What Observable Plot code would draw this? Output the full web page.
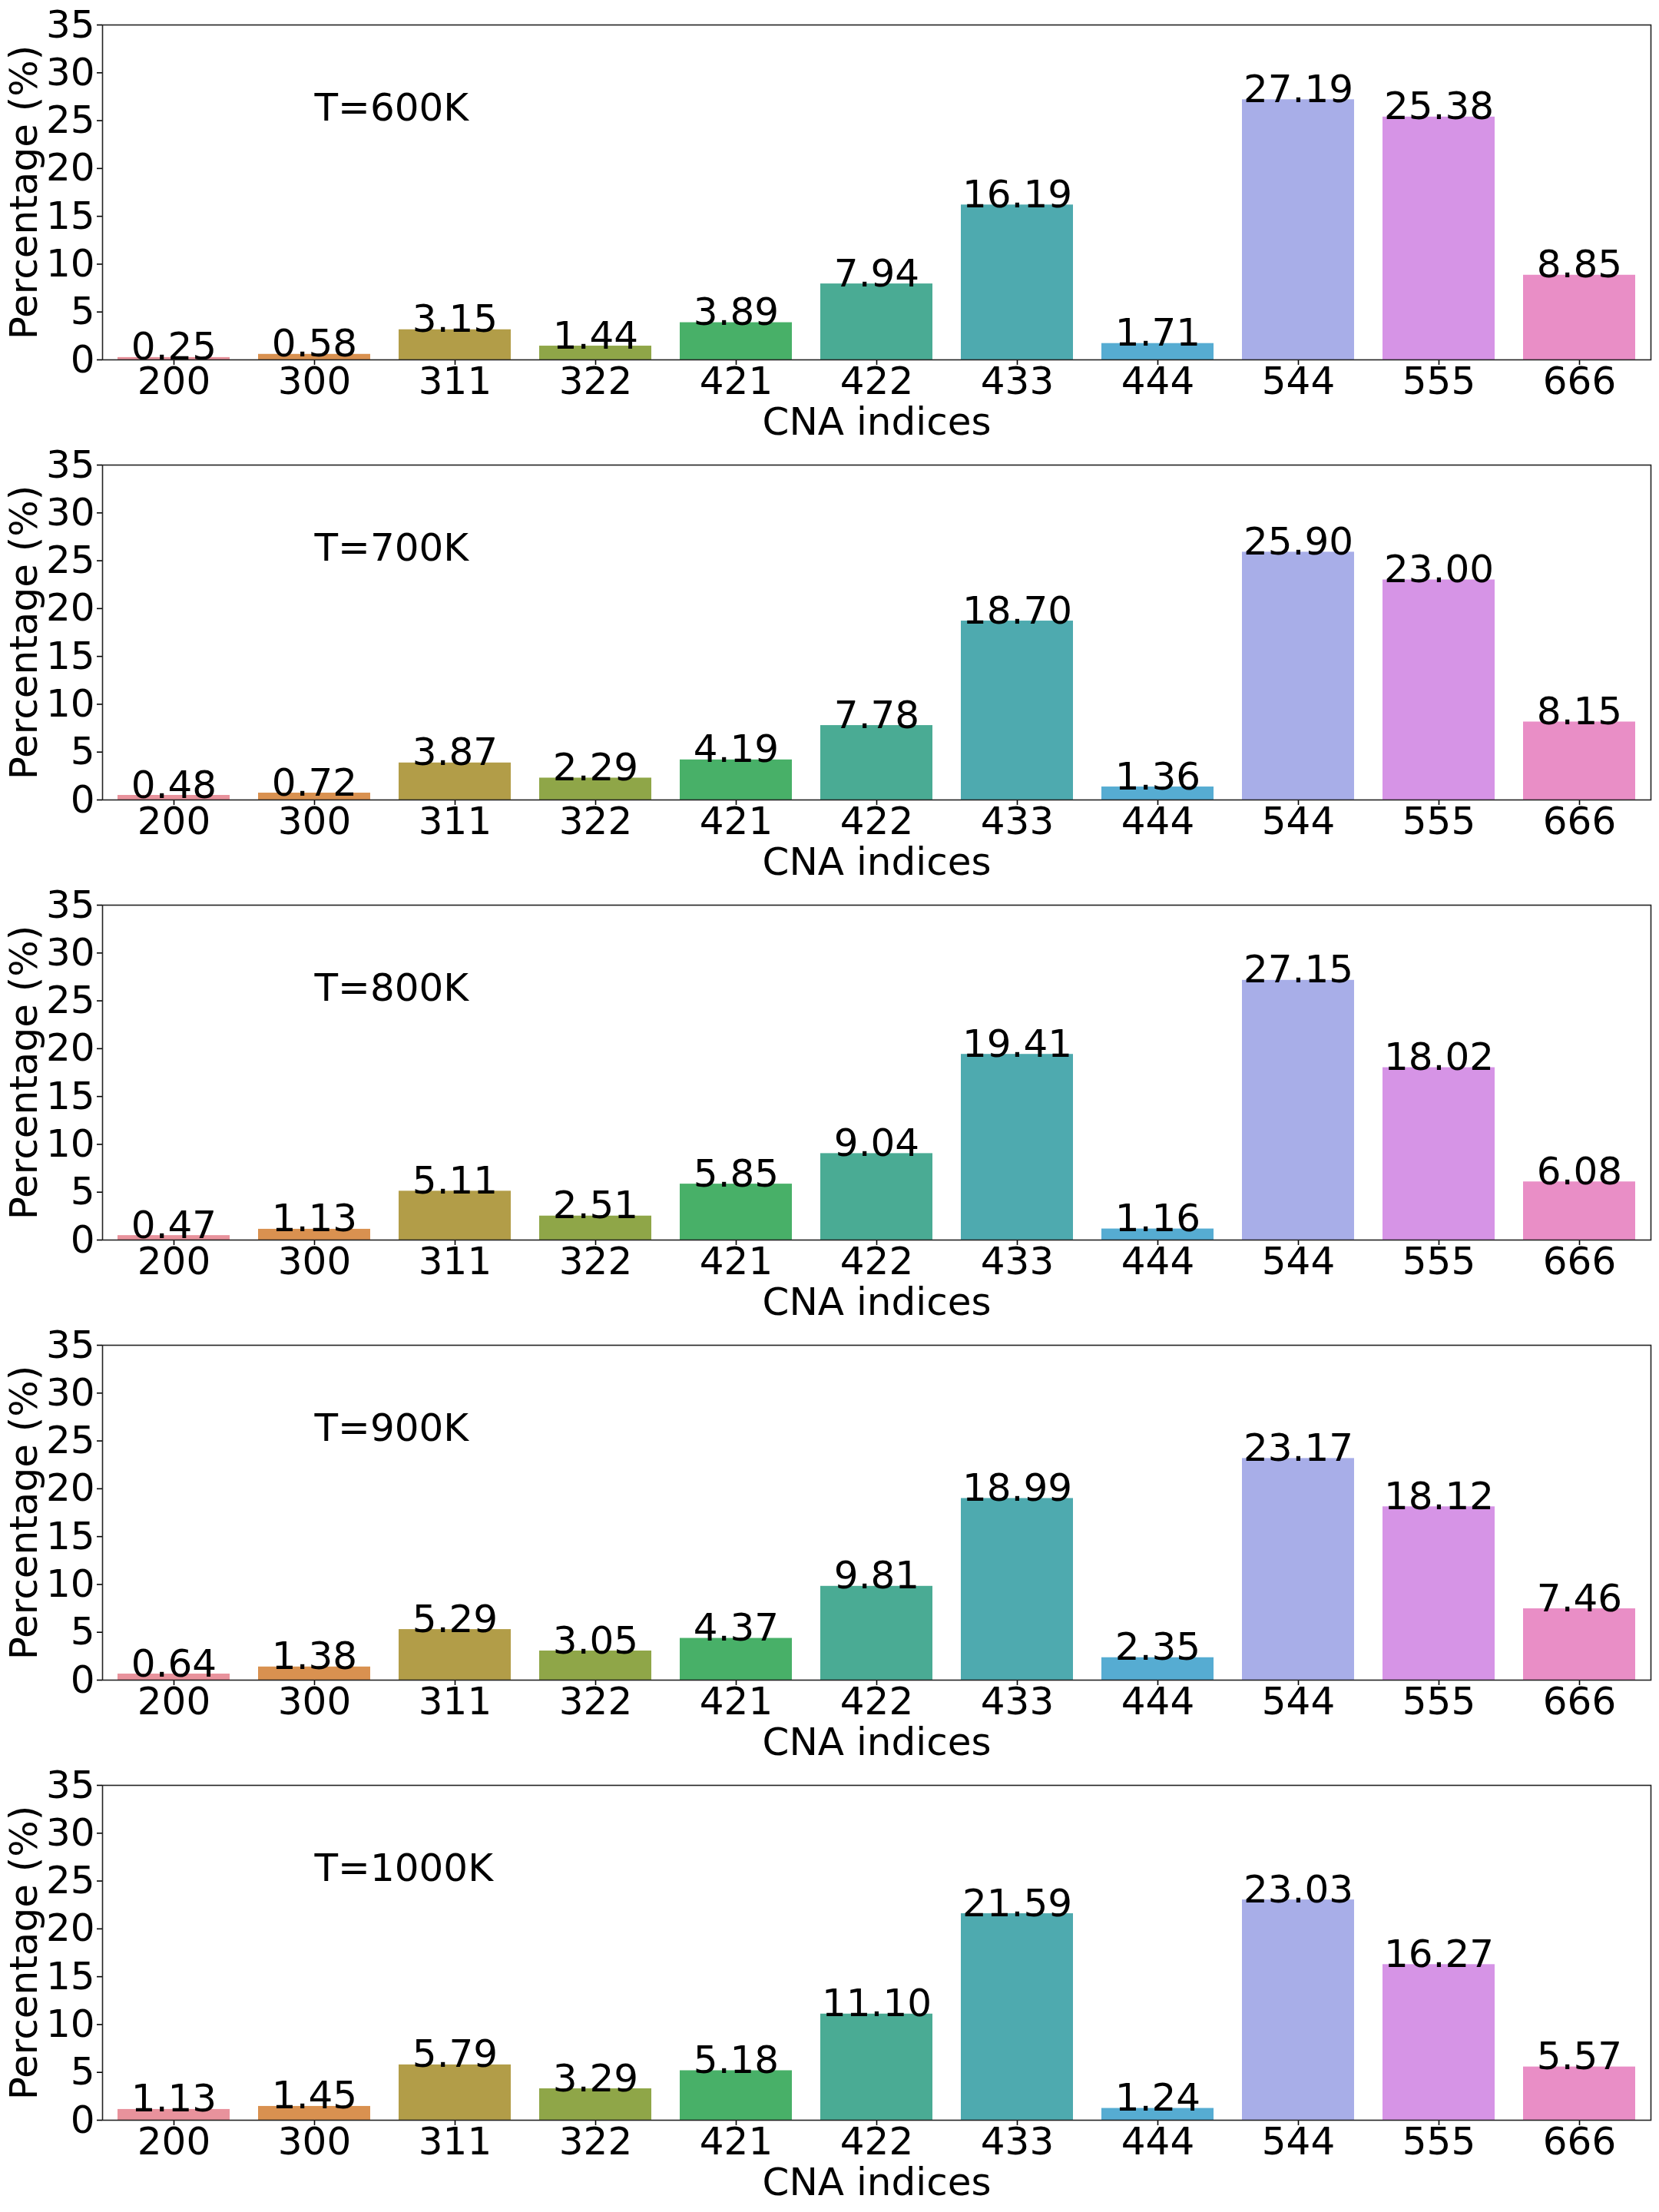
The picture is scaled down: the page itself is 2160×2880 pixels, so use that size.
<!DOCTYPE html>
<html>
<head>
<meta charset="utf-8">
<script src="https://cdn.jsdelivr.net/npm/d3@7"></script>
<script src="https://cdn.jsdelivr.net/npm/@observablehq/plot@0.6"></script>
<style>
  html, body { margin: 0; padding: 0; background: white; }
  #chart svg { display: block; }
</style>
</head>
<body>
<div id="chart"></div>
<script>
const categories = ["200", "300", "311", "322", "421", "422", "433", "444", "544", "555", "666"];
const temperatures = ["T=600K", "T=700K", "T=800K", "T=900K", "T=1000K"];
const values600  = [0.25, 0.58, 3.15, 1.44, 3.89, 7.94, 16.19, 1.71, 27.19, 25.38, 8.85];
const values700  = [0.48, 0.72, 3.87, 2.29, 4.19, 7.78, 18.70, 1.36, 25.90, 23.00, 8.15];
const values800  = [0.47, 1.13, 5.11, 2.51, 5.85, 9.04, 19.41, 1.16, 27.15, 18.02, 6.08];
const values900  = [0.64, 1.38, 5.29, 3.05, 4.37, 9.81, 18.99, 2.35, 23.17, 18.12, 7.46];
const values1000 = [1.13, 1.45, 5.79, 3.29, 5.18, 11.10, 21.59, 1.24, 23.03, 16.27, 5.57];
const seriesValues = [values600, values700, values800, values900, values1000];
const yTicks = [0, 5, 10, 15, 20, 25, 30, 35];
const xLabel = "CNA indices";
const yLabel = "Percentage (%)";
const barColors = ["#e8929c", "#d99150", "#b29d48", "#8fa648", "#48b068", "#4aab94",
                   "#4eaaaf", "#56acd2", "#a8aee8", "#d694e6", "#e98ec6"];

const FONT = "DejaVu Sans";
const FS = 50;

const rows = [];
temperatures.forEach((t, i) => {
  categories.forEach((c, j) => rows.push({temp: t, cna: c, value: seriesValues[i][j]}));
});
const labels = temperatures.map(t => ({temp: t}));

const svg = Plot.plot({
  width: 2160,
  height: 2880,
  marginLeft: 133,
  marginRight: 11,
  marginTop: 30,
  marginBottom: 118,
  style: {fontFamily: FONT, fontSize: FS + "px", color: "black", background: "white"},
  fy: {domain: temperatures, paddingInner: 0.2383, paddingOuter: 0, axis: null, label: null},
  x: {domain: categories, paddingInner: 0.2, paddingOuter: 0.1, label: null},
  y: {domain: [0, 35], label: null},
  color: {domain: categories, range: barColors},
  marks: [
    Plot.barY(rows, {fy: "temp", x: "cna", y: "value", fill: "cna"}),
    Plot.text(rows, {fy: "temp", x: "cna", y: "value", text: d => d.value.toFixed(2),
      textAnchor: "middle", lineAnchor: "bottom", dy: 3, fontSize: FS, fill: "black"}),
    Plot.text(labels, {fy: "temp", x: () => categories[1], y: () => 25, text: "temp",
      textAnchor: "start", lineAnchor: "bottom", fontSize: FS, fill: "black"}),
    Plot.axisY({ticks: yTicks, tickSize: 7, tickPadding: 3, fontSize: FS, label: null, strokeWidth: 1.6}),
    Plot.axisX({facetAnchor: null, tickSize: 7, tickPadding: 2, fontSize: FS, label: null, strokeWidth: 1.6}),
    Plot.frame({stroke: "#222", strokeWidth: 1.6}),
    Plot.text([xLabel], {frameAnchor: "bottom", dy: 97, text: d => d,
      textAnchor: "middle", lineAnchor: "bottom", fontSize: FS, fill: "black"}),
    Plot.text([yLabel], {frameAnchor: "left", dx: -86, rotate: -90, text: d => d,
      textAnchor: "middle", lineAnchor: "bottom", fontSize: FS, fill: "black"})
  ]
});
document.getElementById("chart").appendChild(svg);
</script>
</body>
</html>
